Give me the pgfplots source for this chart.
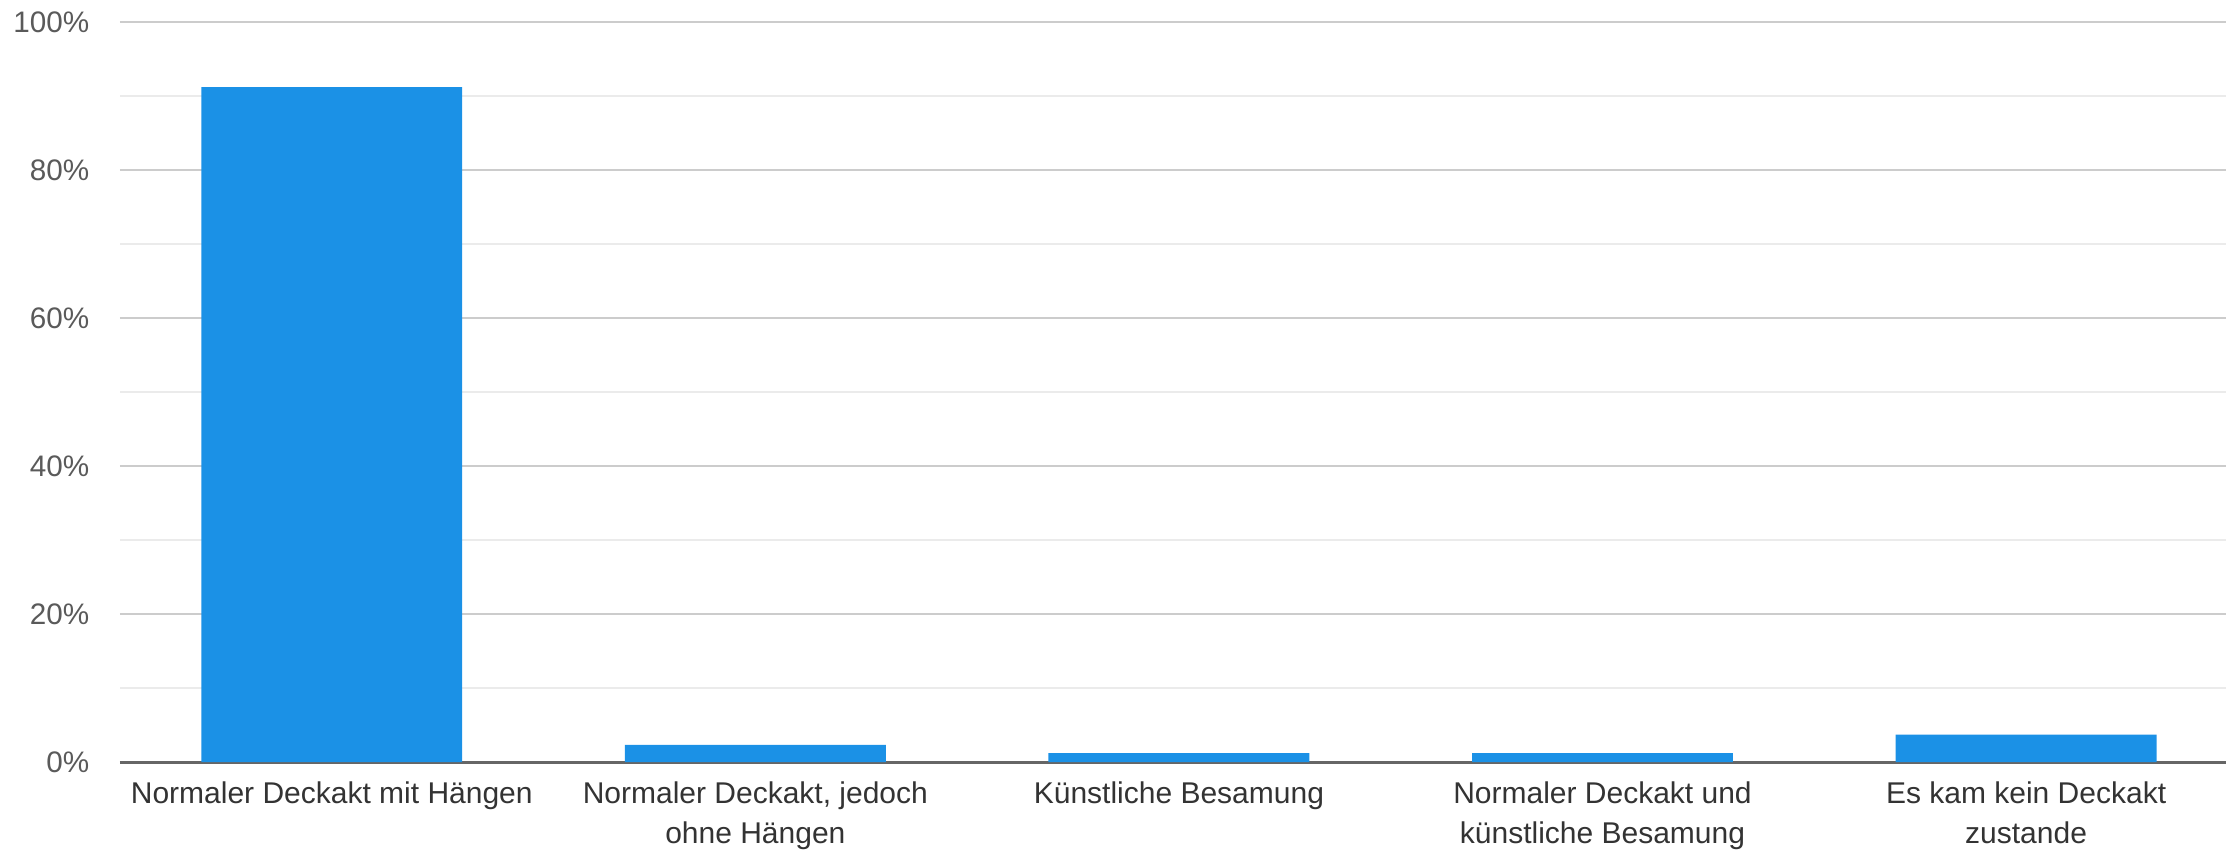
\documentclass[border=0pt]{standalone}
\usepackage{pgfplots}
\pgfplotsset{compat=1.18}
\usepackage{fontspec}
\setmainfont{Liberation Sans}
\definecolor{barblue}{HTML}{1B91E6}
\definecolor{gridmaj}{HTML}{CCCCCC}
\definecolor{gridmin}{HTML}{EBEBEB}
\definecolor{ytxt}{HTML}{5A5A5A}
\definecolor{xtxt}{HTML}{333333}
\begin{document}
\begin{tikzpicture}
\begin{axis}[
    scale only axis,
    width=631.8pt, height=222pt,
    xmin=-0.5, xmax=4.472,
    ymin=0, ymax=100,
    ytick={0,20,...,100},
    yticklabels={0\%,20\%,40\%,60\%,80\%,100\%},
    minor ytick={10,30,50,70,90},
    ymajorgrids, yminorgrids,
    major grid style={draw=gridmaj, line width=0.6pt},
    minor grid style={draw=gridmin, line width=0.6pt},
    xtick={0,1,2,3,4},
    xticklabels={{Normaler Deckakt mit Hängen},{Normaler Deckakt, jedoch\\ohne Hängen},{Künstliche Besamung},{Normaler Deckakt und\\künstliche Besamung},{Es kam kein Deckakt\\zustande}},
    major tick length=0pt, minor tick length=0pt,
    axis x line*=bottom, axis y line*=left,
    y axis line style={draw=none},
    x axis line style={draw=black!60, line width=0.9pt},
    xticklabel style={font=\fontsize{9}{12}\selectfont, text=xtxt, align=center, inner sep=0pt, yshift=-5.8pt},
    yticklabel style={font=\fontsize{8.9}{10}\selectfont, text=ytxt, inner sep=0pt, xshift=-9pt},
    ybar, bar width=0.616, bar shift=0pt,
]
\addplot[fill=barblue, draw=none] coordinates {(0,91.2) (1,2.3) (2,1.2) (3,1.2) (4,3.7)};
\end{axis}
\pgfresetboundingbox
\path ([shift={(-36pt,-26.4pt)}]current axis.south west) rectangle ([shift={(0pt,6.6pt)}]current axis.north east);
\end{tikzpicture}
\end{document}
